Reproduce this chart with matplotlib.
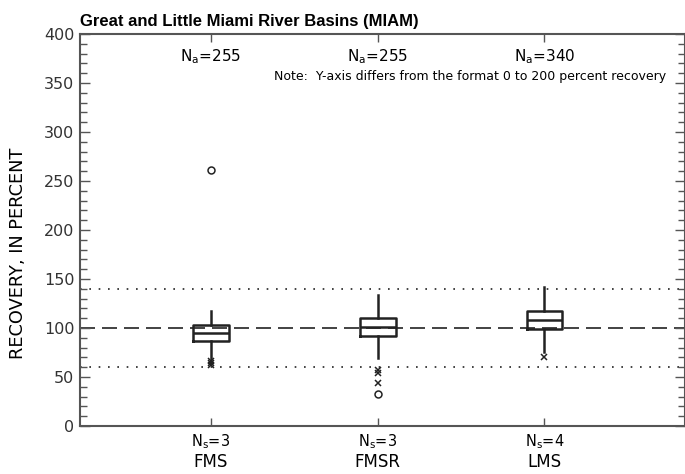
import matplotlib.pyplot as plt
from matplotlib.ticker import MultipleLocator

plt.rcParams['font.family'] = ['DejaVu Sans']
plt.rcParams['mathtext.default'] = 'regular'

# box statistics, percent recovery
sites = ['FMS', 'FMSR', 'LMS']
n_analyses = [255, 255, 340]
n_samples = [3, 3, 4]
q1 = [87, 92, 99]
medians = [95, 101, 108]
q3 = [103, 110, 117]
whisker_low = [68, 69, 76]
whisker_high = [117, 134, 142]
# outside values (x) and far-outside values (o)
outside_vals = [[66, 64, 62], [57, 54, 44], [70]]
far_vals = [[261], [33], []]

ink = '#222222'
frame = '#555555'

fig = plt.figure(figsize=(6.85, 4.74), dpi=100)
ax = fig.add_axes([0.1168, 0.1013, 0.8825, 0.827])

positions = list(range(1, len(sites) + 1))
stats = []
for i, name in enumerate(sites):
    stats.append({'label': name, 'med': medians[i], 'q1': q1[i], 'q3': q3[i],
                  'whislo': whisker_low[i], 'whishi': whisker_high[i], 'fliers': []})

ax.bxp(stats, positions=positions, widths=0.215, showcaps=False, showfliers=False,
       boxprops=dict(color=ink, linewidth=1.8),
       whiskerprops=dict(color=ink, linewidth=1.8),
       medianprops=dict(color=ink, linewidth=1.8))

for p, vals in zip(positions, outside_vals):
    ax.plot([p] * len(vals), vals, linestyle='none', marker='x', color=ink,
            markersize=5, markeredgewidth=1.1)
for p, vals in zip(positions, far_vals):
    ax.plot([p] * len(vals), vals, linestyle='none', marker='o', markerfacecolor='none',
            markeredgecolor=ink, markersize=5, markeredgewidth=1.1)

# reference lines
ax.axhline(100, color=ink, linewidth=1.2, linestyle=(0, (9, 4.2)), zorder=0)
for y in (60, 140):
    ax.axhline(y, color=ink, linewidth=1.2, linestyle=(0, (1, 4.6)), zorder=0)

ax.set_xlim(0.215, 3.84)
ax.set_ylim(0, 400)
ax.yaxis.set_major_locator(MultipleLocator(50))
ax.yaxis.set_minor_locator(MultipleLocator(10))
ax.set_xticks(positions)
ax.set_xticklabels([])
ax.tick_params(axis='both', which='both', direction='in', top=True, right=True,
               color=frame, width=1)
ax.tick_params(axis='y', which='major', length=7, labelsize=11.5, pad=4,
               labelcolor='#333333')
ax.tick_params(axis='y', which='minor', length=5)
ax.tick_params(axis='x', which='major', length=6)
for s in ax.spines.values():
    s.set_color(frame)
    s.set_linewidth(1.5)

ax.set_ylabel('RECOVERY, IN PERCENT', fontsize=12.8)
ax.yaxis.set_label_coords(-0.088, 0.44)

xform = ax.get_xaxis_transform()
for p, name, na, ns in zip(positions, sites, n_analyses, n_samples):
    ax.text(p, 377, r'N$_a$=%d' % na, ha='center', va='center', fontsize=11)
    ax.text(p, -0.04, r'N$_s$=%d' % ns, transform=xform, ha='center', va='center',
            fontsize=10.5)
    ax.text(p, -0.092, name, transform=xform, ha='center', va='center', fontsize=12)

ax.text(3.732, 357, 'Note:  Y-axis differs from the format 0 to 200 percent recovery',
        ha='right', va='center', fontsize=9)

ax.set_title('Great and Little Miami River Basins (MIAM)', loc='left', fontsize=12,
             fontweight='bold', pad=5.5, family='Liberation Sans')

plt.savefig('out.png', dpi=100)
plt.close()
